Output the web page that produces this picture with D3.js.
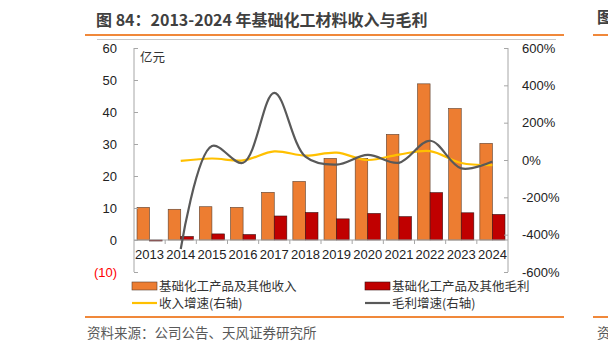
<!DOCTYPE html>
<html>
<head>
<meta charset="utf-8">
<script src="https://cdn.jsdelivr.net/npm/d3@7"></script>
<style>
  body { margin: 0; background: #fff; }
  svg { display: block; }
  text { font-family: "Liberation Sans", Arial, "Noto Sans CJK SC", sans-serif; }
  .cjk { font-family: "Noto Sans CJK SC", sans-serif; }
</style>
</head>
<body>
<div id="chart"></div>
<script>
// Chart data
var years = ['2013', '2014', '2015', '2016', '2017', '2018', '2019', '2020', '2021', '2022', '2023', '2024'];
var revenue = [10.2, 9.6, 10.4, 10.2, 14.9, 18.3, 25.5, 25.5, 33.0, 48.8, 41.1, 30.2];
var grossProfit = [-0.3, 1.1, 1.9, 1.7, 7.5, 8.6, 6.6, 8.3, 7.3, 14.8, 8.5, 8.0];
var revenueGrowth = [null, -5, 8, -2, 46, 23, 39, 0, 29, 48, -16, -27];
var profitGrowth = [null, -477, 75, -15, 360, 18, -25, 27, -15, 103, -45, -8];
var leftTicks = [-10, 0, 10, 20, 30, 40, 50, 60];
var rightTicks = [-600, -400, -200, 0, 200, 400, 600];

var width = 608;
var height = 353;
var plotLeft = 134;
var plotRight = 508;
var plotTop = 48;
var plotBottom = 272;
var orange = '#ED7D31';
var red = '#C00000';
var yellow = '#FFC000';
var grey = '#595959';
var axisColor = '#A6A6A6';

var svg = d3.select('#chart')
            .append('svg')
            .attr('width', width)
            .attr('height', height);

// Title and the decorative rules
svg.append('text')
   .attr('class', 'cjk')
   .attr('x', 96)
   .attr('y', 26)
   .attr('font-size', 16)
   .attr('font-weight', 'bold')
   .attr('fill', '#404040')
   .text('图 84：2013-2024 年基础化工材料收入与毛利');
svg.append('text')
   .attr('class', 'cjk')
   .attr('x', 597)
   .attr('y', 23)
   .attr('font-size', 16)
   .attr('font-weight', 'bold')
   .attr('fill', '#404040')
   .text('图');
svg.append('line').attr('x1', 85).attr('x2', 564).attr('y1', 35).attr('y2', 35)
   .attr('stroke', '#F0883A').attr('stroke-width', 2);
svg.append('line').attr('x1', 593).attr('x2', 608).attr('y1', 35).attr('y2', 35)
   .attr('stroke', '#F0883A').attr('stroke-width', 2);
svg.append('line').attr('x1', 97).attr('x2', 556).attr('y1', 39.5).attr('y2', 39.5)
   .attr('stroke', '#C8C8C8').attr('stroke-width', 1);

// Scales
var x = d3.scaleBand()
          .domain(years)
          .range([plotLeft, plotRight]);
var x1 = d3.scaleBand()
           .domain(['revenue', 'profit'])
           .range([0, x.bandwidth()])
           .paddingOuter(0.24);
var y = d3.scaleLinear()
          .domain([-10, 60])
          .range([plotBottom, plotTop]);
var y2 = d3.scaleLinear()
           .domain([-600, 600])
           .range([plotBottom, plotTop]);

// Bars
var g = svg.append('g').attr('class', 'bars');
g.selectAll('.rev')
 .data(revenue)
 .enter()
 .append('rect')
 .attr('class', 'rev')
 .attr('x', function (d, i) { return x(years[i]) + x1('revenue'); })
 .attr('y', function (d) { return y(Math.max(d, 0)); })
 .attr('width', x1.bandwidth())
 .attr('height', function (d) { return Math.abs(y(d) - y(0)); })
 .attr('fill', orange)
 .attr('stroke', '#5A4030')
 .attr('stroke-width', 0.6);
g.selectAll('.gp')
 .data(grossProfit)
 .enter()
 .append('rect')
 .attr('class', 'gp')
 .attr('x', function (d, i) { return x(years[i]) + x1('profit'); })
 .attr('y', function (d) { return y(Math.max(d, 0)); })
 .attr('width', x1.bandwidth())
 .attr('height', function (d) { return Math.max(Math.abs(y(d) - y(0)), 1); })
 .attr('fill', red)
 .attr('stroke', '#3A1010')
 .attr('stroke-width', 0.6);

// Left axis
var yAxis = d3.axisLeft(y)
              .tickValues(leftTicks)
              .tickSize(-4)
              .tickPadding(17)
              .tickFormat(function (d) { return d < 0 ? '(' + Math.abs(d) + ')' : d; });
var ga = svg.append('g')
            .attr('transform', 'translate(' + plotLeft + ',0)')
            .call(yAxis);
ga.select('.domain').attr('stroke', axisColor).attr('d', 'M0,' + plotTop + 'V' + plotBottom);
ga.selectAll('.tick line').attr('stroke', axisColor);
ga.selectAll('.tick text')
  .attr('font-size', 13)
  .attr('fill', function (d) { return d < 0 ? '#FF0000' : '#222'; });

// Right axis
var y2Axis = d3.axisRight(y2)
               .tickValues(rightTicks)
               .tickSize(-4)
               .tickPadding(14)
               .tickFormat(function (d) { return d + '%'; });
var gb = svg.append('g')
            .attr('transform', 'translate(' + plotRight + ',0)')
            .call(y2Axis);
gb.select('.domain').attr('stroke', axisColor).attr('d', 'M0,' + plotTop + 'V' + plotBottom);
gb.selectAll('.tick line').attr('stroke', axisColor);
gb.selectAll('.tick text').attr('font-size', 13).attr('fill', '#222');

// Category axis on the zero line
var gx = svg.append('g').attr('transform', 'translate(0,' + y(0) + ')');
gx.append('line')
  .attr('x1', plotLeft).attr('x2', plotRight)
  .attr('stroke', axisColor);
gx.selectAll('.sep')
  .data(years.slice(1))
  .enter()
  .append('line')
  .attr('x1', function (d) { return x(d); })
  .attr('x2', function (d) { return x(d); })
  .attr('y1', 0).attr('y2', 4)
  .attr('stroke', axisColor);
gx.selectAll('.lab')
  .data(years)
  .enter()
  .append('text')
  .attr('x', function (d) { return x(d) + x.bandwidth() / 2; })
  .attr('y', 19)
  .attr('text-anchor', 'middle')
  .attr('font-size', 13)
  .attr('fill', '#222')
  .text(function (d) { return d; });

svg.append('text')
   .attr('class', 'cjk')
   .attr('x', 140)
   .attr('y', 62)
   .attr('font-size', 12.5)
   .attr('fill', '#333')
   .text('亿元');

// Growth lines (right axis)
function growthLine(values, color) {
  var pts = values.map(function (d, i) { return { v: d, i: i }; })
                  .filter(function (d) { return d.v !== null; });
  svg.append('path')
     .datum(pts)
     .attr('fill', 'none')
     .attr('stroke', color)
     .attr('stroke-width', 2.2)
     .attr('d', d3.line()
                  .x(function (d) { return x(years[d.i]) + x.bandwidth() / 2; })
                  .y(function (d) { return y2(d.v); })
                  .curve(d3.curveCatmullRom));
}
growthLine(revenueGrowth, yellow);
growthLine(profitGrowth, grey);

// Legend
var legend = [
  { label: '基础化工产品及其他收入', type: 'rect', color: orange, stroke: '#5A4030', x: 132, y: 286 },
  { label: '基础化工产品及其他毛利', type: 'rect', color: red, stroke: '#3A1010', x: 365, y: 286 },
  { label: '收入增速(右轴)', type: 'line', color: yellow, x: 132, y: 303 },
  { label: '毛利增速(右轴)', type: 'line', color: grey, x: 365, y: 303 }
];
var lg = svg.append('g').attr('class', 'legend');
legend.forEach(function (d) {
  if (d.type === 'rect') {
    lg.append('rect')
      .attr('x', d.x).attr('y', d.y - 4)
      .attr('width', 25).attr('height', 8)
      .attr('fill', d.color)
      .attr('stroke', d.stroke)
      .attr('stroke-width', 0.6);
  } else {
    lg.append('line')
      .attr('x1', d.x).attr('x2', d.x + 25)
      .attr('y1', d.y).attr('y2', d.y)
      .attr('stroke', d.color)
      .attr('stroke-width', 2.2);
  }
  lg.append('text')
    .attr('class', 'cjk')
    .attr('x', d.x + 27)
    .attr('y', d.y + 4.5)
    .attr('font-size', 12.5)
    .attr('fill', '#333')
    .text(d.label);
});

// Footer
svg.append('line').attr('x1', 85).attr('x2', 564).attr('y1', 317).attr('y2', 317)
   .attr('stroke', '#F0883A').attr('stroke-width', 2);
svg.append('line').attr('x1', 593).attr('x2', 608).attr('y1', 317).attr('y2', 317)
   .attr('stroke', '#F0883A').attr('stroke-width', 2);
svg.append('text')
   .attr('class', 'cjk')
   .attr('x', 87)
   .attr('y', 338)
   .attr('font-size', 13.5)
   .attr('fill', '#595959')
   .text('资料来源：公司公告、天风证券研究所');
svg.append('text')
   .attr('class', 'cjk')
   .attr('x', 597)
   .attr('y', 338)
   .attr('font-size', 13.5)
   .attr('fill', '#595959')
   .text('资');
</script>
</body>
</html>
